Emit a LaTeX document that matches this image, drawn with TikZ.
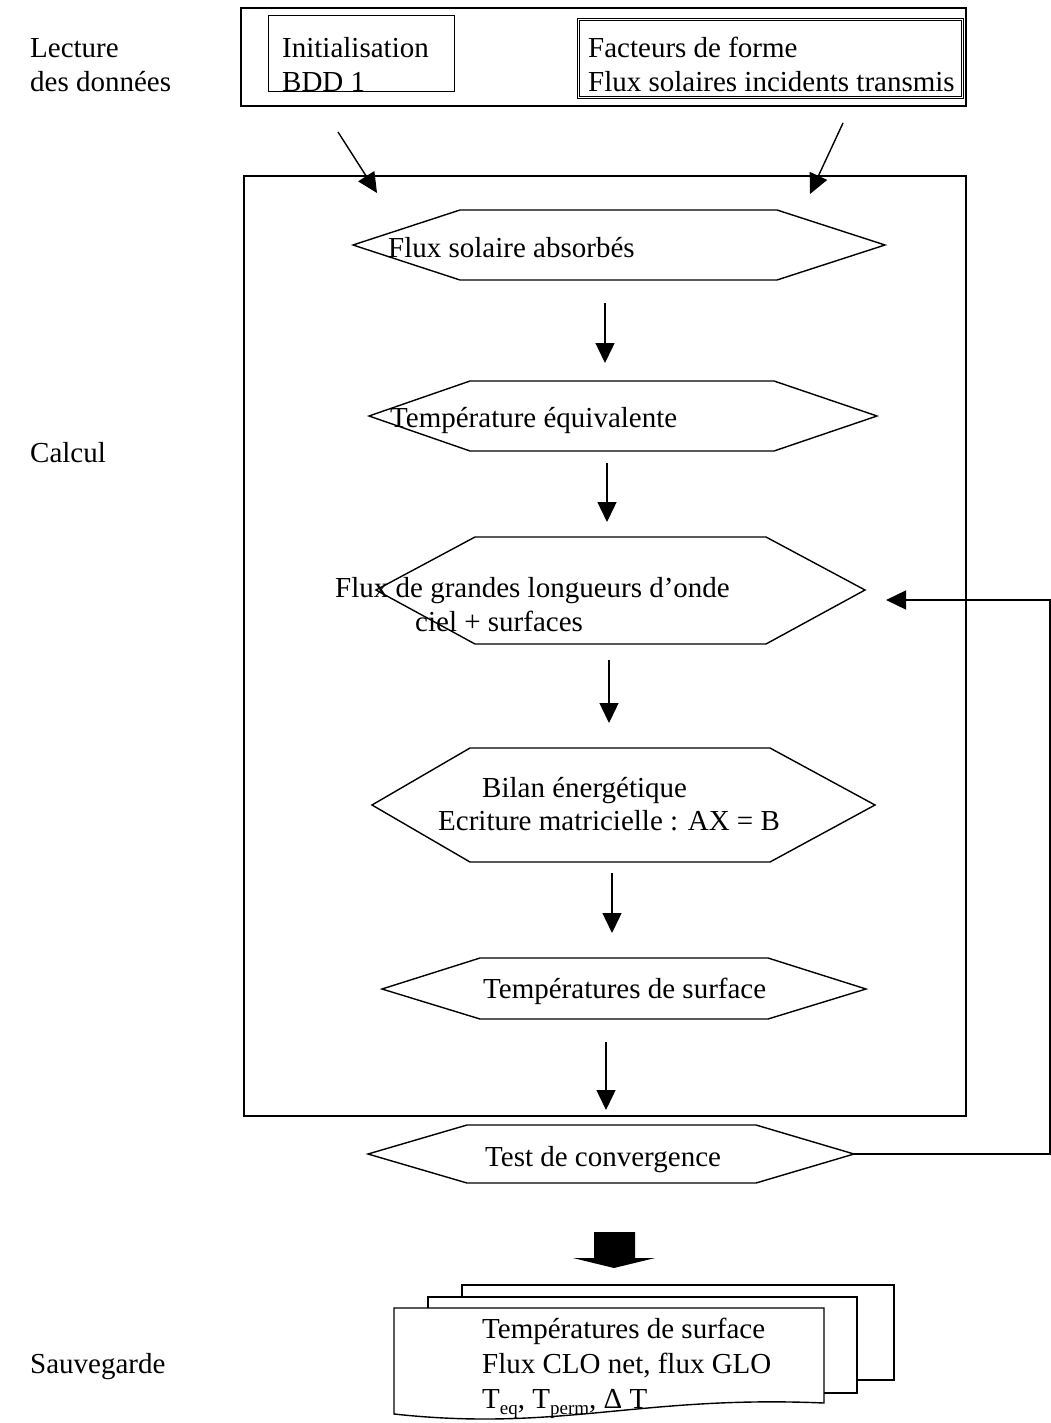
\documentclass[tikz,border=0pt]{standalone}
\usepackage{fontspec}
\setmainfont{Liberation Serif}
\usetikzlibrary{arrows.meta}
\begin{document}
\begin{tikzpicture}[x=1pt,y=-1pt,
  font=\fontsize{29}{34.5}\selectfont,
  lbl/.style={anchor=base west, inner sep=0pt},
  frame/.style={draw, line width=1.7pt, inner sep=0pt, anchor=north west},
  shp/.style={draw, line width=1.4pt, line join=miter},
  flow/.style={line width=1.4pt, -{Triangle[length=20pt,width=19pt]}}]
\useasboundingbox (0,0) rectangle (1051,1423);
\fill[white] (0,0) rectangle (1051,1423);

% ---- side labels
\node[lbl] (lec1) at (30,58) {Lecture};
\node[lbl] (lec2) at (30,92) {des données};
\node[lbl] (calcl) at (30,462) {Calcul};
\node[lbl] (sauv) at (30,1373) {Sauvegarde};

% ---- input boxes
\node[frame, minimum width=725pt, minimum height=98pt] (topbox) at (240,7) {};
\node[frame, line width=1.4pt, minimum width=186pt, minimum height=76pt] (box1) at (268,15) {};
\node[frame, line width=0.8pt, double, double distance=1.2pt, minimum width=384pt, minimum height=78pt] (box2) at (578,19) {};
\node[lbl] (t1a) at (282,58) {Initialisation};
\node[lbl] (t1b) at (282,92) {BDD 1};
\node[lbl] (t2a) at (588,58) {Facteurs de forme};
\node[lbl] (t2b) at (588,92) {Flux solaires incidents transmis};

% ---- calc frame
\node[frame, minimum width=722pt, minimum height=940pt] (calc) at (243,175) {};

% ---- arrows into calc
\coordinate (a1s) at (338,132); \coordinate (a1e) at (377,193);
\coordinate (a2s) at (843,123); \coordinate (a2e) at (810,194);
\draw[flow] (a1s) -- (a1e);
\draw[flow] (a2s) -- (a2e);

% ---- hexagons
\draw[shp] (353,245) -- (460,210) -- (777,210) -- (885,245) -- (777,280) -- (460,280) -- cycle;
\draw[shp] (369,416) -- (470,381) -- (774,381) -- (877,416) -- (774,451) -- (470,451) -- cycle;
\draw[shp] (376,590) -- (475,537) -- (766,537) -- (865,590) -- (766,644) -- (475,644) -- cycle;
\draw[shp] (372,805) -- (470,748) -- (770,748) -- (875,805) -- (770,862) -- (470,862) -- cycle;
\draw[shp] (382,989) -- (480,958) -- (768,958) -- (866,989) -- (768,1019) -- (480,1019) -- cycle;
\draw[shp] (368,1154) -- (467,1125) -- (756,1125) -- (854,1154) -- (756,1183) -- (467,1183) -- cycle;

\node[lbl] (h1t) at (388,258) {Flux solaire absorbés};
\node[lbl] (h2t) at (390,427) {Température équivalente};
\node[lbl] (h3a) at (335,597) {Flux de grandes longueurs d’onde};
\node[lbl] (h3b) at (415,631) {ciel + surfaces};
\node[lbl] (h4a) at (482,797) {Bilan énergétique};
\node[lbl] (h4b) at (438,830) {Ecriture matricielle : AX = B};
\node[lbl] (h5t) at (483,998) {Températures de surface};
\node[lbl] (h6t) at (485,1166) {Test de convergence};

% ---- vertical flow arrows
\coordinate (f1s) at (605,303); \coordinate (f1e) at (605,363);
\coordinate (f2s) at (607,463); \coordinate (f2e) at (607,522);
\coordinate (f3s) at (609,660); \coordinate (f3e) at (609,723);
\coordinate (f4s) at (612,873); \coordinate (f4e) at (612,933);
\coordinate (f5s) at (606,1042); \coordinate (f5e) at (606,1110);
\draw[flow] (f1s) -- (f1e);
\draw[flow] (f2s) -- (f2e);
\draw[flow] (f3s) -- (f3e);
\draw[flow] (f4s) -- (f4e);
\draw[flow] (f5s) -- (f5e);

% ---- feedback loop
\coordinate (fbA) at (854,1154); \coordinate (fbB) at (1050,1154);
\coordinate (fbC) at (1050,600); \coordinate (fbD) at (886,600);
\draw[flow, line join=miter] (fbA) -- (fbB) -- (fbC) -- (fbD);

% ---- block arrow
\fill (594,1232) -- (635,1232) -- (635,1258) -- (655,1258) -- (614,1268) -- (573,1258) -- (594,1258) -- cycle;

% ---- multi-document
\draw[shp, fill=white] (462,1285) rectangle (894,1380);
\draw[shp, fill=white] (428,1297) rectangle (857,1393);
\draw[shp, fill=white] (394,1308) -- (824,1308) -- (824,1403) .. controls (640,1395) and (560,1432) .. (394,1414) -- cycle;
\node[lbl] (d1) at (482,1338) {Températures de surface};
\node[lbl] (d2) at (482,1373) {Flux CLO net, flux GLO};
\node[lbl] (d3) at (482,1408) {T\raisebox{-0.22em}{\fontsize{19}{19}\selectfont eq}, T\raisebox{-0.22em}{\fontsize{19}{19}\selectfont perm}, Δ T};
\end{tikzpicture}
\end{document}
